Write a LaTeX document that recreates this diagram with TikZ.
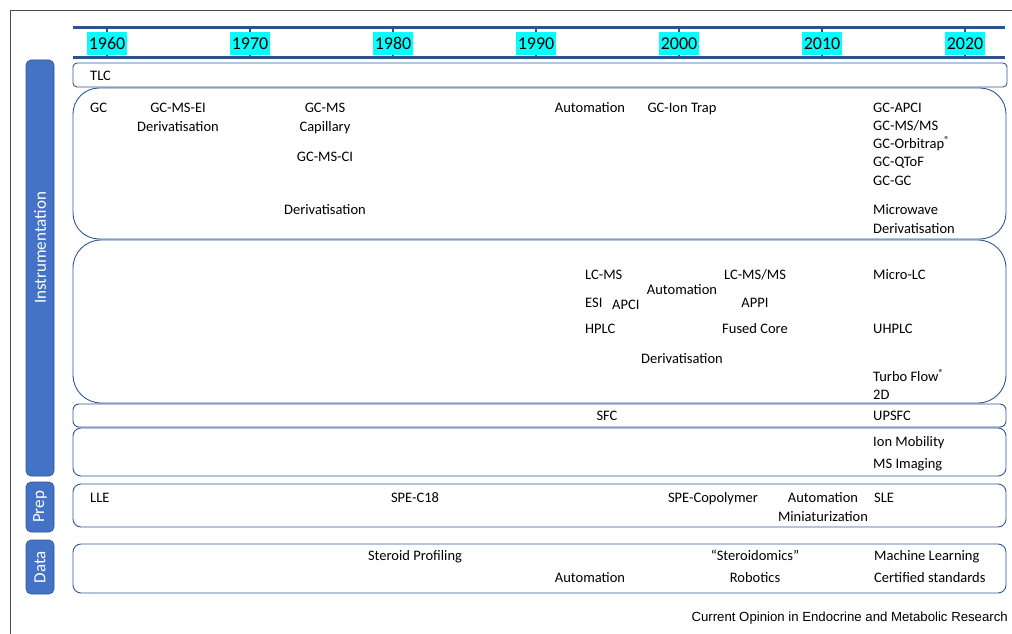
\documentclass[tikz,border=0pt]{standalone}
\usepackage{fontspec}
\setmainfont{Carlito}
\newfontfamily\capfont{Liberation Sans}
\definecolor{bdr}{HTML}{2F5597}
\definecolor{barblue}{HTML}{4472C4}
\definecolor{tlblue}{HTML}{2F528F}
\definecolor{hlcyan}{HTML}{00FFFF}
\begin{document}
\begin{tikzpicture}[x=1pt,y=-1pt,
  rowbox/.style={draw=bdr, line width=0.9pt},
  sidebar/.style={fill=barblue, draw=bdr, line width=0.6pt, rounded corners=5},
  sidetxt/.style={text=white, rotate=90, font=\fontsize{17}{20}\selectfont, inner sep=0pt},
  yearlbl/.style={fill=hlcyan, inner xsep=1.5pt, inner ysep=0pt, minimum height=23pt, font=\fontsize{18}{20}\selectfont},
  itm/.style={font=\fontsize{14.5}{17}\selectfont, inner sep=0pt, anchor=mid},
  itml/.style={font=\fontsize{14.5}{17}\selectfont, inner sep=0pt, anchor=mid west}]
\useasboundingbox (0,0) rectangle (1012,634);
% outer frame
\draw[gray!60!black, line width=1pt] (10,640) -- (10,11) -- (1016,11);
% timeline
\draw[tlblue, line width=3pt] (73,28) -- (1005,28);
\draw[tlblue, line width=3pt] (73,58) -- (1005,58);
\foreach \x/\yr in {107/1960,250/1970,393/1980,536/1990,679/2000,822/2010,965/2020}{
  \draw[tlblue, line width=1.5pt] (\x,28) -- (\x,33);
  \draw[tlblue, line width=1.5pt] (\x,53) -- (\x,58);
  \node[yearlbl] (y\yr) at (\x,43.5) {\yr};
}
% row boxes
\draw[rowbox, rounded corners=4] (73,63) rectangle (1007,87);
\draw[rowbox, rounded corners=26] (73,88) rectangle (1006,239);
\draw[rowbox, rounded corners=28] (73,240) rectangle (1006,403);
\draw[rowbox, rounded corners=6] (73,404) rectangle (1006,427);
\draw[rowbox, rounded corners=8] (73,428) rectangle (1006,476);
\draw[rowbox, rounded corners=8] (73,484) rectangle (1006,527);
\draw[rowbox, rounded corners=8] (73,544) rectangle (1006,593);
% side bars
\draw[sidebar] (26,60) rectangle (54,476);
\node[sidetxt] (sInstr) at (40,248) {Instrumentation};
\draw[sidebar] (26,482) rectangle (54,532);
\node[sidetxt] (sPrep) at (40,507) {Prep};
\draw[sidebar] (26,540) rectangle (54,594);
\node[sidetxt] (sData) at (40,567) {Data};
% TLC row
\node[itml] (tlc) at (90,78) {TLC};
% GC row
\node[itml] (gc) at (90,110) {GC};
\node[itm] (gcmsei) at (178,110) {GC-MS-EI};
\node[itm] (der1) at (178,129) {Derivatisation};
\node[itm] (gcms) at (325,110) {GC-MS};
\node[itm] (cap) at (325,129) {Capillary};
\node[itm] (gcmsci) at (325,159) {GC-MS-CI};
\node[itm] (der2) at (325,212) {Derivatisation};
\node[itm] (auto1) at (590,110) {Automation};
\node[itm] (gcit) at (682,110) {GC-Ion Trap};
\node[itml] (gcapci) at (873,110) {GC-APCI};
\node[itml] (gcmsms) at (873,128) {GC-MS/MS};
\node[itml] (gcorb) at (873,146) {GC-Orbitrap\textsuperscript{®}};
\node[itml] (gcqtof) at (873,164) {GC-QToF};
\node[itml] (gcgc) at (873,183) {GC-GC};
\node[itml] (micro) at (873,212) {Microwave};
\node[itml] (der3) at (873,231) {Derivatisation};
% LC row
\node[itml] (lcms) at (585,277) {LC-MS};
\node[itml] (esi) at (585,305) {ESI};
\node[itml] (apci) at (612,307) {APCI};
\node[itm] (auto2) at (682,292) {Automation};
\node[itm] (lcmsms) at (755,277) {LC-MS/MS};
\node[itm] (appi) at (755,305) {APPI};
\node[itml] (hplc) at (585,331) {HPLC};
\node[itm] (fused) at (755,331) {Fused Core};
\node[itm] (der4) at (682,361) {Derivatisation};
\node[itml] (microlc) at (873,277) {Micro-LC};
\node[itml] (uhplc) at (873,331) {UHPLC};
\node[itml] (turbo) at (873,379) {Turbo Flow\textsuperscript{®}};
\node[itml] (twod) at (873,397) {2D};
% SFC row
\node[itm] (sfc) at (607,418) {SFC};
\node[itml] (upsfc) at (873,418) {UPSFC};
% ion mobility row
\node[itml] (ionmob) at (873,444) {Ion Mobility};
\node[itml] (msimg) at (873,466) {MS Imaging};
% Prep row
\node[itml] (lle) at (90,500) {LLE};
\node[itm] (spec18) at (415,500) {SPE-C18};
\node[itm] (specop) at (713,500) {SPE-Copolymer};
\node[itm] (auto3) at (823,500) {Automation};
\node[itm] (mini) at (823,519) {Miniaturization};
\node[itml] (sle) at (874,500) {SLE};
% Data row
\node[itm] (stprof) at (415,558) {Steroid Profiling};
\node[itm] (auto4) at (590,580) {Automation};
\node[itm] (steroidomics) at (755,558) {“Steroidomics”};
\node[itm] (robot) at (755,580) {Robotics};
\node[itml] (ml) at (874,558) {Machine Learning};
\node[itml] (cert) at (874,580) {Certified standards};
% caption
\node[anchor=base east, inner sep=0pt, font=\capfont\fontsize{13.2}{15}\selectfont] (caption) at (1008,621) {Current Opinion in Endocrine and Metabolic Research};
\end{tikzpicture}
\end{document}
